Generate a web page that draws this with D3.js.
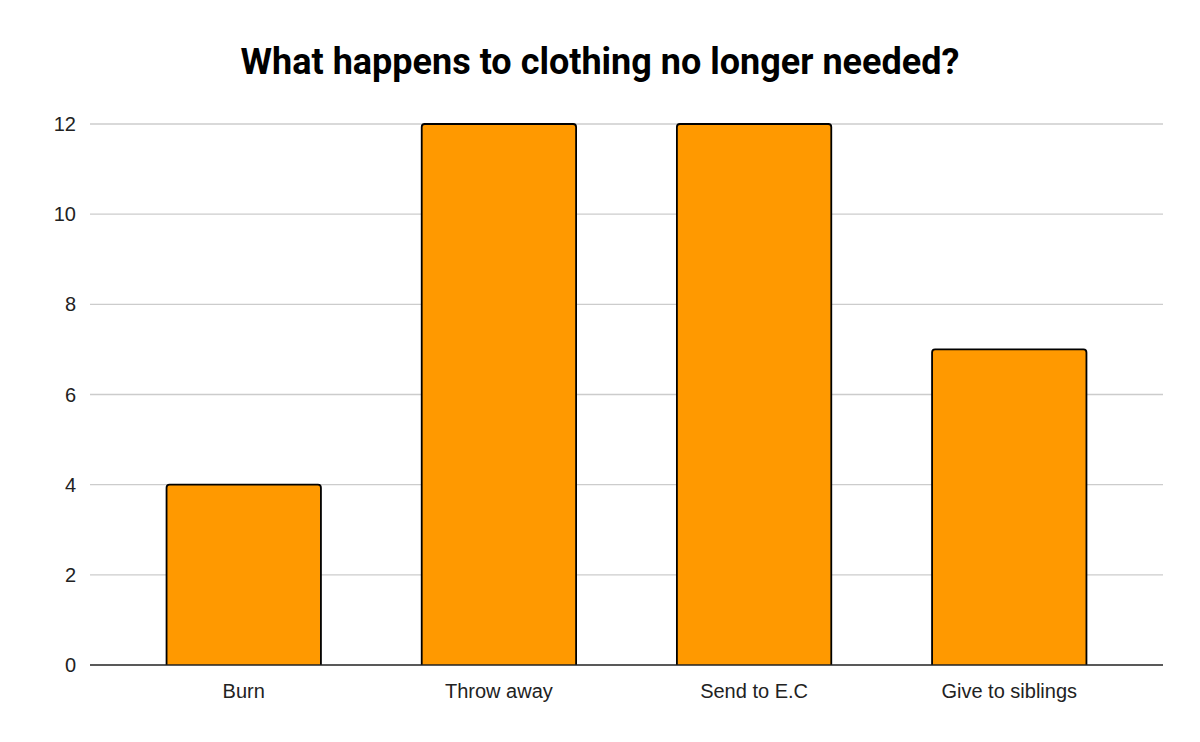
<!DOCTYPE html>
<html><head><meta charset="utf-8">
<script src="https://cdn.jsdelivr.net/npm/d3@7"></script>
<style>body{margin:0;background:#fff}</style>
</head><body>
<svg id="chart" width="1200" height="742"></svg>
<script>
const categories = ['Burn', 'Throw away', 'Send to E.C', 'Give to siblings'];
const values = [4, 12, 12, 7];
const yTicks = [0, 2, 4, 6, 8, 10, 12];

const W = 1200, H = 742;
const M = { left: 90, right: 37, top: 124, bottom: 77 };
const svg = d3.select('#chart');

svg.append('text')
    .attr('x', W / 2).attr('y', 74)
    .attr('text-anchor', 'middle')
    .style('font-family', 'Roboto, sans-serif')
    .style('font-weight', 'bold')
    .style('font-size', '36px')
    .text('What happens to clothing no longer needed?');

const x = d3.scaleBand().domain(categories)
    .range([M.left, W - M.right]).paddingInner(0.395).paddingOuter(0.3);
const y = d3.scaleLinear().domain([0, 12]).range([H - M.bottom, M.top]);

// grid
svg.append('g').selectAll('line').data(yTicks.filter(d => d > 0)).join('line')
    .attr('x1', M.left).attr('x2', W - M.right)
    .attr('y1', d => y(d)).attr('y2', d => y(d))
    .attr('stroke', '#cccccc').attr('stroke-width', 1.3);

// y labels
svg.append('g').selectAll('text').data(yTicks).join('text')
    .attr('x', 76).attr('y', d => y(d) + 7)
    .attr('text-anchor', 'end')
    .style('font-family', 'Liberation Sans, Arial, sans-serif')
    .style('font-size', '20px').attr('fill', '#222')
    .text(d => d);

// bars with rounded top corners
const r = 3;
svg.append('g').selectAll('path').data(values).join('path')
    .attr('d', (d, i) => {
        const x0 = x(categories[i]), x1 = x0 + x.bandwidth();
        const y0 = y(0), y1 = y(d);
        return `M${x0},${y0}V${y1 + r}Q${x0},${y1} ${x0 + r},${y1}H${x1 - r}Q${x1},${y1} ${x1},${y1 + r}V${y0}`;
    })
    .attr('fill', '#ff9900').attr('stroke', '#000').attr('stroke-width', 1.8);

// baseline
svg.append('line')
    .attr('x1', M.left).attr('x2', W - M.right)
    .attr('y1', y(0)).attr('y2', y(0))
    .attr('stroke', '#222').attr('stroke-width', 1.5);

// x labels
svg.append('g').selectAll('text').data(categories).join('text')
    .attr('x', d => x(d) + x.bandwidth() / 2).attr('y', 698)
    .attr('text-anchor', 'middle')
    .style('font-family', 'Liberation Sans, Arial, sans-serif')
    .style('font-size', '20px').attr('fill', '#222')
    .text(d => d);
</script>
</body></html>
